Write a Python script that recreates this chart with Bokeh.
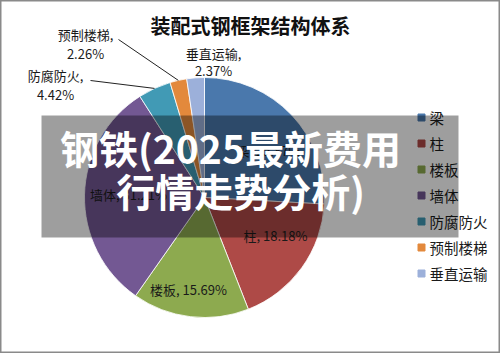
import numpy as np
from bokeh.plotting import figure
from bokeh.models import Range1d, ColumnDataSource
from bokeh.core.properties import value
from bokeh.embed import file_html
from bokeh.resources import INLINE

# ---------------- data ----------------
title = "装配式钢框架结构体系"
categories = ["梁", "柱", "楼板", "墙体", "防腐防火", "预制楼梯", "垂直运输"]
shares = [25.87, 18.18, 15.69, 31.21, 4.42, 2.26, 2.37]
colors = ["#4A78AC", "#AE4A47", "#8DAA4F", "#735893", "#419AB5", "#E3893C", "#9CB0DA"]
overlay_line1 = "钢铁(2025最新费用"
overlay_line2 = "行情走势分析)"

FONT = "Noto Sans CJK SC"
W, H = 500, 353

def Y(py):
    return H - py

p = figure(width=W, height=H, x_range=Range1d(0, W), y_range=Range1d(0, H),
           output_backend="svg", toolbar_location=None, min_border=0)
p.axis.visible = False
p.grid.visible = False
p.outline_line_color = "#8A8A8A"
p.outline_line_width = 2
p.background_fill_color = "white"
p.border_fill_color = "white"

# ---------------- pie ----------------
cx, cy, R = 204, 197, 120
frac = np.array(shares) / np.sum(shares)
cum_end = np.cumsum(frac)
cum_start = cum_end - frac
start_ang = np.pi / 2 - 2 * np.pi * cum_end
end_ang = np.pi / 2 - 2 * np.pi * cum_start
src = ColumnDataSource(dict(start=start_ang, end=end_ang, color=colors, cat=categories))
p.wedge(x=cx, y=Y(cy), radius=R, start_angle="start", end_angle="end",
        fill_color="color", line_color="white", line_width=0.8, source=src)

# ---------------- title ----------------
p.text(x=[W / 2], y=[Y(25)], text=[title], text_font=value(FONT), text_font_size="20px",
       text_font_style="bold", text_align="center", text_baseline="middle", text_color="#111111")

# ---------------- data labels ----------------
lab = [f"{c}, {s:.2f}%" for c, s in zip(categories, shares)]
inside_pos = {0: (268, 150), 1: (275, 235), 2: (188, 289), 3: (128, 194)}
for i, (lx, ly) in inside_pos.items():
    p.text(x=[lx], y=[Y(ly)], text=[lab[i]], text_font=value(FONT), text_font_size="13px",
           text_align="center", text_baseline="middle", text_color="#1a1a1a")

outside_pos = {4: (55, 75, 94), 5: (85, 34, 53), 6: (213, 53, 70)}
for i, (lx, ly1, ly2) in outside_pos.items():
    p.text(x=[lx], y=[Y(ly1)], text=[categories[i] + ","], text_font=value(FONT),
           text_font_size="13px", text_align="center", text_baseline="middle", text_color="#1a1a1a")
    p.text(x=[lx], y=[Y(ly2)], text=[f"{shares[i]:.2f}%"], text_font=value(FONT),
           text_font_size="13px", text_align="center", text_baseline="middle", text_color="#1a1a1a")

mid = np.pi / 2 - 2 * np.pi * (cum_start + frac / 2)
leader_start = {4: (90, 80), 5: (118, 39)}
for i, (sx, sy) in leader_start.items():
    ex = cx + R * np.cos(mid[i])
    ey = cy - R * np.sin(mid[i])
    p.line(x=[sx, ex], y=[Y(sy), Y(ey)], line_color="#222222", line_width=1)

# ---------------- legend ----------------
for k, (c, col) in enumerate(zip(categories, colors)):
    ly = 117 + k * 26
    p.scatter(x=[421], y=[Y(ly)], marker="square", size=7, fill_color=col, line_color=col)
    p.text(x=[429], y=[Y(ly)], text=[c], text_font=value(FONT), text_font_size="14.5px",
           text_align="left", text_baseline="middle", text_color="#1a1a1a")

# ---------------- overlay band ----------------
p.quad(left=41, right=458, top=Y(115), bottom=Y(237), fill_color="#000000",
       fill_alpha=0.38, line_color=None)
p.text(x=[230], y=[Y(146)], text=[overlay_line1], text_font=value(FONT), text_font_size="39px",
       text_font_style="bold", text_align="center", text_baseline="middle", text_color="white")
p.text(x=[240], y=[Y(189)], text=[overlay_line2], text_font=value(FONT), text_font_size="39px",
       text_font_style="bold", text_align="center", text_baseline="middle", text_color="white")

open("out.html", "w").write(file_html(p, INLINE))
